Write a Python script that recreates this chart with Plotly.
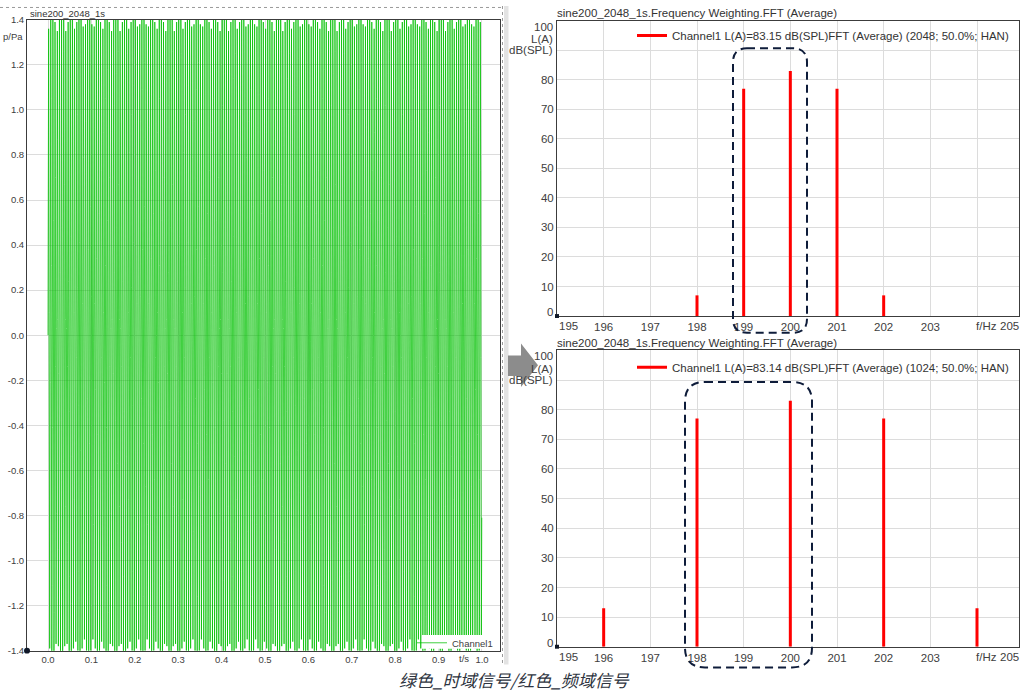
import plotly.graph_objects as go

W, H = 1031, 697
FONT = "Liberation Sans, Arial, sans-serif"
CJK = "Noto Sans CJK SC, sans-serif"

# ---------------- data ----------------
FS = 2048  # samples per second (sine200_2048_1s)
# one repeating block of 256 samples (25 periods of the 200 Hz sine), p/Pa
SIG_BLOCK = [
    0.00, 0.81, 1.33, 1.36, 0.90, 0.10, -0.73, -1.29, -1.39, -0.98,
    -0.21, 0.64, 1.25, 1.40, 1.05, 0.31, -0.54, -1.19, -1.41, -1.11,
    -0.41, 0.44, 1.14, 1.41, 1.18, 0.51, -0.34, -1.07, -1.41, -1.23,
    -0.60, 0.24, 1.00, 1.39, 1.28, 0.70, -0.14, -0.92, -1.37, -1.32,
    -0.79, 0.03, 0.84, 1.34, 1.35, 0.87, 0.07, -0.76, -1.31, -1.38,
    -0.95, -0.17, 0.67, 1.26, 1.40, 1.02, 0.28, -0.57, -1.21, -1.41,
    -1.09, -0.38, 0.48, 1.16, 1.41, 1.16, 0.48, -0.38, -1.09, -1.41,
    -1.21, -0.57, 0.28, 1.02, 1.40, 1.26, 0.67, -0.17, -0.95, -1.38,
    -1.31, -0.76, 0.07, 0.87, 1.35, 1.34, 0.84, 0.03, -0.79, -1.32,
    -1.37, -0.92, -0.14, 0.70, 1.28, 1.39, 1.00, 0.24, -0.60, -1.23,
    -1.41, -1.07, -0.34, 0.51, 1.18, 1.41, 1.14, 0.44, -0.41, -1.11,
    -1.41, -1.19, -0.54, 0.31, 1.05, 1.40, 1.25, 0.64, -0.21, -0.98,
    -1.39, -1.29, -0.73, 0.10, 0.90, 1.36, 1.33, 0.81,
    0.00, -0.81, -1.33, -1.36, -0.90, -0.10, 0.73, 1.29, 1.39, 0.98,
    0.21, -0.64, -1.25, -1.40, -1.05, -0.31, 0.54, 1.19, 1.41, 1.11,
    0.41, -0.44, -1.14, -1.41, -1.18, -0.51, 0.34, 1.07, 1.41, 1.23,
    0.60, -0.24, -1.00, -1.39, -1.28, -0.70, 0.14, 0.92, 1.37, 1.32,
    0.79, -0.03, -0.84, -1.34, -1.35, -0.87, -0.07, 0.76, 1.31, 1.38,
    0.95, 0.17, -0.67, -1.26, -1.40, -1.02, -0.28, 0.57, 1.21, 1.41,
    1.09, 0.38, -0.48, -1.16, -1.41, -1.16, -0.48, 0.38, 1.09, 1.41,
    1.21, 0.57, -0.28, -1.02, -1.40, -1.26, -0.67, 0.17, 0.95, 1.38,
    1.31, 0.76, -0.07, -0.87, -1.35, -1.34, -0.84, -0.03, 0.79, 1.32,
    1.37, 0.92, 0.14, -0.70, -1.28, -1.39, -1.00, -0.24, 0.60, 1.23,
    1.41, 1.07, 0.34, -0.51, -1.18, -1.41, -1.14, -0.44, 0.41, 1.11,
    1.41, 1.19, 0.54, -0.31, -1.05, -1.40, -1.25, -0.64, 0.21, 0.98,
    1.39, 1.29, 0.73, -0.10, -0.90, -1.36, -1.33, -0.81,
]
SIGNAL = SIG_BLOCK * 8  # 2048 samples = 1 s

FREQ_TOP = [198, 199, 200, 201, 202]       # Hz, FFT 2048
LEVEL_TOP = [7, 77, 83, 77, 7]             # dB(SPL) L(A)
FREQ_BOT = [196, 198, 200, 202, 204]       # Hz, FFT 1024
LEVEL_BOT = [13, 77, 83, 77, 13]

TIME_TICKS = [0.0, 0.1, 0.2, 0.3, 0.4, 0.5, 0.6, 0.7, 0.8, 0.9, 1.0]
TIME_TICKTEXT = ["0.0", "0.1", "0.2", "0.3", "0.4", "0.5", "0.6", "0.7", "0.8", "0.9", "1.0"]
P_TICKS = [-1.4, -1.2, -1.0, -0.8, -0.6, -0.4, -0.2, 0.0, 0.2, 0.4, 0.6, 0.8, 1.0, 1.2, 1.4]
P_TICKTEXT = ["-1.4", "-1.2", "-1.0", "-0.8", "-0.6", "-0.4", "-0.2", "0.0",
              "0.2", "0.4", "0.6", "0.8", "1.0", "1.2", "1.4"]
FREQ_TICKS = [195, 196, 197, 198, 199, 200, 201, 202, 203, 204]
FREQ_TICKTEXT = ["", "196", "197", "198", "199", "200", "201", "202", "203", ""]
LEVEL_TICKS = [0, 10, 20, 30, 40, 50, 60, 70, 80, 90, 100]
LEVEL_TICKTEXT = ["", "10", "20", "30", "40", "50", "60", "70", "80", "", ""]

TITLE_TIME = "sine200_2048_1s"
TITLE_FFT = "sine200_2048_1s.Frequency Weighting.FFT (Average)"
NAME_TIME = "Channel1"
NAME_TOP = "Channel1 L(A)=83.15 dB(SPL)FFT (Average) (2048; 50.0%; HAN)"
NAME_BOT = "Channel1 L(A)=83.14 dB(SPL)FFT (Average) (1024; 50.0%; HAN)"
CAPTION = "绿色_时域信号/红色_频域信号"


# ---------------- helpers ----------------
def PX(x):
    return x / W


def PY(y):
    return 1 - y / H


def stems(freqs, levels):
    xs, ys = [], []
    for f, l in zip(freqs, levels):
        xs += [f, f, None]
        ys += [0, l, None]
    return xs, ys


def rounded_rect(x0, y0, x1, y1, r):
    p = [
        f"M{PX(x0 + r)},{PY(y0)}", f"L{PX(x1 - r)},{PY(y0)}",
        f"Q{PX(x1)},{PY(y0)} {PX(x1)},{PY(y0 + r)}", f"L{PX(x1)},{PY(y1 - r)}",
        f"Q{PX(x1)},{PY(y1)} {PX(x1 - r)},{PY(y1)}", f"L{PX(x0 + r)},{PY(y1)}",
        f"Q{PX(x0)},{PY(y1)} {PX(x0)},{PY(y1 - r)}", f"L{PX(x0)},{PY(y0 + r)}",
        f"Q{PX(x0)},{PY(y0)} {PX(x0 + r)},{PY(y0)}", "Z",
    ]
    return " ".join(p)


def poly(points):
    return "M" + " L".join(f"{PX(x)},{PY(y)}" for x, y in points) + " Z"


# ---------------- traces ----------------
fig = go.Figure()
fig.add_trace(go.Scatter(
    x0=0, dx=1 / FS, y=SIGNAL, mode="lines", name=NAME_TIME,
    line=dict(color="#00c000", width=0.75), xaxis="x", yaxis="y",
    legend="legend", hoverinfo="skip"))

xs, ys = stems(FREQ_TOP, LEVEL_TOP)
fig.add_trace(go.Scatter(
    x=xs, y=ys, mode="lines", name=NAME_TOP,
    line=dict(color="#ff0000", width=3), xaxis="x2", yaxis="y2",
    legend="legend2", hoverinfo="skip"))

xs, ys = stems(FREQ_BOT, LEVEL_BOT)
fig.add_trace(go.Scatter(
    x=xs, y=ys, mode="lines", name=NAME_BOT,
    line=dict(color="#ff0000", width=3), xaxis="x3", yaxis="y3",
    legend="legend3", hoverinfo="skip"))

# ---------------- axes ----------------
common = dict(showline=True, linecolor="#3c3c3c", linewidth=1, mirror=True,
              showgrid=True, gridcolor="#dcdcdc", gridwidth=1, zeroline=False,
              ticks="", fixedrange=True)

left_tick = dict(family=FONT, size=9.5, color="#404040")
right_tick = dict(family=FONT, size=11.5, color="#404040")

L_X = [27, 500]
L_Y = [14, 655]
R_X = [557, 1019]
T_Y = [15, 315]
B_Y = [350, 651]
F_RANGE = [195, 204.9]

fig.update_layout(
    xaxis=dict(common, domain=[PX(L_X[0]), PX(L_X[1])], range=[-0.0484, 1.0415],
               tickmode="array", tickvals=TIME_TICKS, ticktext=TIME_TICKTEXT,
               tickfont=left_tick, anchor="y"),
    yaxis=dict(common, domain=[PY(L_Y[1]), PY(L_Y[0])], range=[-1.4, 1.4],
               tickmode="array", tickvals=P_TICKS, ticktext=P_TICKTEXT,
               tickfont=left_tick, anchor="x"),
    xaxis2=dict(common, domain=[PX(R_X[0]), PX(R_X[1])], range=F_RANGE,
                tickmode="array", tickvals=FREQ_TICKS, ticktext=FREQ_TICKTEXT,
                tickfont=right_tick, anchor="y2"),
    yaxis2=dict(common, domain=[PY(T_Y[1]), PY(T_Y[0])], range=[0, 100],
                tickmode="array", tickvals=LEVEL_TICKS, ticktext=LEVEL_TICKTEXT,
                tickfont=right_tick, anchor="x2"),
    xaxis3=dict(common, domain=[PX(R_X[0]), PX(R_X[1])], range=F_RANGE,
                tickmode="array", tickvals=FREQ_TICKS, ticktext=FREQ_TICKTEXT,
                tickfont=right_tick, anchor="y3"),
    yaxis3=dict(common, domain=[PY(B_Y[1]), PY(B_Y[0])], range=[0, 100],
                tickmode="array", tickvals=LEVEL_TICKS, ticktext=LEVEL_TICKTEXT,
                tickfont=right_tick, anchor="x3"),
)

# ---------------- legends ----------------
fig.update_layout(
    legend=dict(x=PX(412), y=PY(647), xanchor="left", yanchor="middle",
                bgcolor="rgba(255,255,255,0)", borderwidth=0,
                font=dict(family=FONT, size=9.5, color="#404040"), itemwidth=30),
    legend2=dict(x=PX(632), y=PY(30), xanchor="left", yanchor="middle",
                 bgcolor="rgba(255,255,255,0)", borderwidth=0,
                 font=dict(family=FONT, size=11.5, color="#333333"), itemwidth=30),
    legend3=dict(x=PX(632), y=PY(367), xanchor="left", yanchor="middle",
                 bgcolor="rgba(255,255,255,0)", borderwidth=0,
                 font=dict(family=FONT, size=11.5, color="#333333"), itemwidth=30),
)

# ---------------- annotations ----------------
def ann(text, x, y, xanchor="left", size=11.5, color="#333333", family=FONT, **kw):
    return dict(text=text, x=PX(x), y=PY(y), xref="paper", yref="paper",
                xanchor=xanchor, yanchor="middle", showarrow=False,
                font=dict(family=family, size=size, color=color, **kw))


annotations = [
    ann(TITLE_TIME, 28, 8, size=9.5),
    ann("p/Pa", 25, 31, xanchor="right", size=9.5, color="#404040"),
    ann("t/s", 457, 663, size=9.5, color="#404040"),
    ann(TITLE_FFT, 555, 7.5),
    ann(TITLE_FFT, 555, 342),
    ann(CAPTION, 514, 684, xanchor="center", size=17, color="#2e3440",
        family=CJK, style="italic"),
]
for top, bot in [(15, 315), (350, 651)]:
    annotations += [
        ann("100", 555, top + 6, xanchor="right", color="#404040"),
        ann("L(A)", 555, top + 19, xanchor="right", color="#404040"),
        ann("dB(SPL)", 555, top + 30, xanchor="right", color="#404040"),
        ann("0", 555, bot - 4, xanchor="right", color="#404040"),
        ann("195", 557, bot + 10, xanchor="left", color="#404040"),
        ann("f/Hz", 986, bot + 10, xanchor="center", color="#404040"),
        ann("205", 1021, bot + 10, xanchor="right", color="#404040"),
    ]
fig.update_layout(annotations=annotations)

# ---------------- shapes ----------------
NAVY = "#0e1c3a"
shapes = [
    # light grey separator strip in front of the spectrum panels
    dict(type="rect", xref="paper", yref="paper", layer="below",
         x0=PX(504), x1=PX(508.5), y0=PY(669), y1=PY(0), fillcolor="#e3e3e3", line=dict(width=0)),
    # dotted frame of the time-signal panel
    dict(type="line", xref="paper", yref="paper", x0=PX(0), x1=PX(502), y0=PY(1.5), y1=PY(1.5),
         line=dict(color="#9a9a9a", width=1, dash="dot")),
    dict(type="line", xref="paper", yref="paper", x0=PX(502.5), x1=PX(502.5), y0=PY(0), y1=PY(670),
         line=dict(color="#9a9a9a", width=1, dash="dot")),
    # white legend box of the time signal
    dict(type="rect", xref="paper", yref="paper", layer="above",
         x0=PX(422), x1=PX(498), y0=PY(653), y1=PY(639), fillcolor="#ffffff", line=dict(width=0)),
    # grey arrow
    dict(type="path", xref="paper", yref="paper", layer="above",
         path=poly([(508, 355), (521, 355), (521, 343), (538, 365), (521, 387), (521, 376), (508, 376)]),
         fillcolor="#8c8c8c", line=dict(width=0)),
    # dashed highlight boxes
    dict(type="path", xref="paper", yref="paper", layer="above",
         path=rounded_rect(733, 43, 807, 332, 14),
         line=dict(color=NAVY, width=2, dash="8px,5px")),
    dict(type="path", xref="paper", yref="paper", layer="above",
         path=rounded_rect(685, 382, 812, 672, 20),
         line=dict(color=NAVY, width=2, dash="8px,5px")),
    # origin markers
    dict(type="circle", xref="paper", yref="paper", layer="above",
         x0=PX(24), x1=PX(30), y0=PY(652), y1=PY(658), fillcolor="#101828", line=dict(width=0)),
    dict(type="rect", xref="paper", yref="paper", layer="above",
         x0=PX(555), x1=PX(559), y0=PY(313), y1=PY(317), fillcolor="#101828", line=dict(width=0)),
    dict(type="rect", xref="paper", yref="paper", layer="above",
         x0=PX(555), x1=PX(559), y0=PY(649), y1=PY(653), fillcolor="#101828", line=dict(width=0)),
]
fig.update_layout(shapes=shapes)

fig.update_layout(
    width=W, height=H, autosize=False,
    margin=dict(l=0, r=0, t=0, b=0, pad=0),
    paper_bgcolor="#ffffff", plot_bgcolor="#ffffff",
    showlegend=True, hovermode=False,
    font=dict(family=FONT, color="#333333"),
)

fig.write_html("out.html", config={"displayModeBar": False, "staticPlot": True})
